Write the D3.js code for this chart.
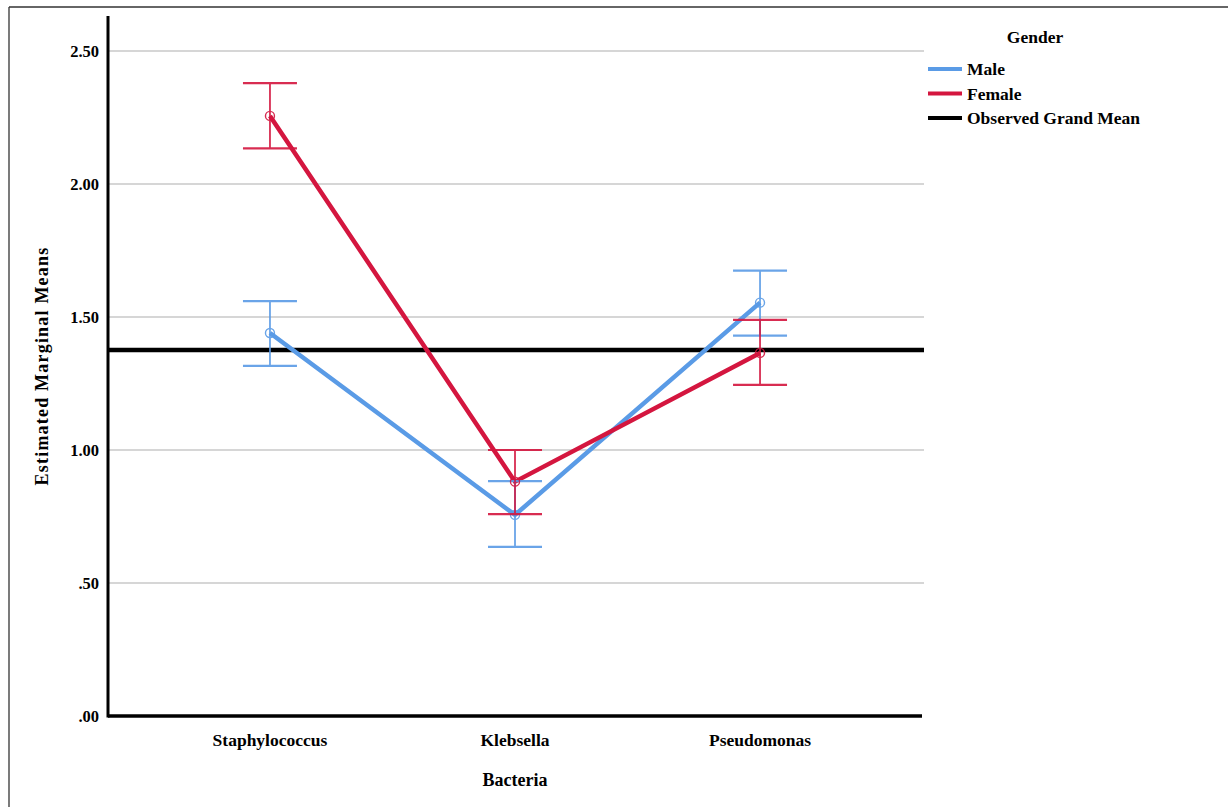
<!DOCTYPE html>
<html>
<head>
<meta charset="utf-8">
<script src="https://cdn.jsdelivr.net/npm/d3@7"></script>
<style>
  body { margin: 0; background: #fff; }
  text { font-family: "Liberation Serif", "DejaVu Serif", serif; font-weight: bold; fill: #000; }
</style>
</head>
<body>
<svg id="chart" width="1228" height="807"></svg>
<script>
// data
const categories = ['Staphylococcus', 'Klebsella', 'Pseudomonas'];
const maleMeans = [1.44, 0.756, 1.554];
const maleLower = [1.316, 0.636, 1.43];
const maleUpper = [1.56, 0.883, 1.674];
const femaleMeans = [2.256, 0.881, 1.365];
const femaleLower = [2.134, 0.759, 1.245];
const femaleUpper = [2.379, 1.0, 1.489];
const grandMean = 1.376;
const yTicks = [0, 0.5, 1.0, 1.5, 2.0, 2.5];

const series = [
  { name: 'Male', color: '#5a9be6', mean: maleMeans, lo: maleLower, hi: maleUpper },
  { name: 'Female', color: '#d4163f', mean: femaleMeans, lo: femaleLower, hi: femaleUpper }
];

const svg = d3.select('#chart');
const plotLeft = 108, plotRight = 922, plotTop = 16, plotBottom = 716;

// outer frame
svg.append('line').attr('x1', 9).attr('y1', 7).attr('x2', 9).attr('y2', 807)
   .attr('stroke', '#333').attr('stroke-width', 1.3);
svg.append('line').attr('x1', 9).attr('y1', 7).attr('x2', 1228).attr('y2', 7)
   .attr('stroke', '#333').attr('stroke-width', 1.3);

const xScale = d3.scalePoint()
                 .domain(categories)
                 .range([plotLeft, plotRight])
                 .padding(0.661);

const yScale = d3.scaleLinear()
                 .domain([0, 2.5])
                 .range([plotBottom, plotBottom - 5 * 133]);

// gridlines
svg.append('g')
   .selectAll('line')
   .data(yTicks.filter(d => d > 0))
   .join('line')
     .attr('x1', plotLeft)
     .attr('x2', plotRight + 2)
     .attr('y1', d => yScale(d))
     .attr('y2', d => yScale(d))
     .attr('stroke', '#c8c8c8')
     .attr('stroke-width', 1.5);

// y axis
const yAxis = svg.append('g')
                 .attr('transform', `translate(${plotLeft},0)`)
                 .call(d3.axisLeft(yScale)
                         .tickValues(yTicks)
                         .tickSize(0)
                         .tickPadding(9)
                         .tickFormat(d => d === 0 ? '.00' : d3.format('.2f')(d).replace(/^0/, '')));
yAxis.select('.domain').remove();
yAxis.selectAll('text').attr('font-size', 16.5).attr('dy', '0.35em')
     .style('font-family', '"Liberation Serif", serif').style('font-weight', 'bold');

svg.append('line').attr('x1', plotLeft).attr('x2', plotLeft).attr('y1', plotTop).attr('y2', plotBottom + 1.5)
   .attr('stroke', '#000').attr('stroke-width', 3);
svg.append('line').attr('x1', plotLeft).attr('x2', plotRight).attr('y1', plotBottom).attr('y2', plotBottom)
   .attr('stroke', '#000').attr('stroke-width', 3.5);

// category labels
svg.append('g')
   .selectAll('text')
   .data(categories)
   .join('text')
     .attr('x', d => xScale(d))
     .attr('y', 746)
     .attr('text-anchor', 'middle')
     .attr('font-size', 17.5)
     .text(d => d);

svg.append('text')
   .attr('x', xScale('Klebsella'))
   .attr('y', 786)
   .attr('text-anchor', 'middle')
   .attr('font-size', 18)
   .text('Bacteria');

svg.append('text')
   .attr('transform', `translate(48,${(plotTop + plotBottom) / 2}) rotate(-90)`)
   .attr('text-anchor', 'middle')
   .attr('font-size', 18)
   .attr('letter-spacing', 1.2)
   .text('Estimated Marginal Means');

// grand mean
svg.append('line')
   .attr('x1', plotLeft).attr('x2', plotRight + 2)
   .attr('y1', yScale(grandMean)).attr('y2', yScale(grandMean))
   .attr('stroke', '#000').attr('stroke-width', 4.5);

const line = d3.line()
               .x((d, i) => xScale(categories[i]))
               .y(d => yScale(d));

series.forEach(s => {
  svg.append('path')
     .datum(s.mean)
     .attr('d', line)
     .attr('fill', 'none')
     .attr('stroke', s.color)
     .attr('stroke-width', 4.5);
});

const capHalf = 27;
series.forEach(s => {
  const g = svg.append('g').attr('opacity', 0.9);
  categories.forEach((c, i) => {
    const x = xScale(c);
    g.append('line').attr('x1', x).attr('x2', x)
     .attr('y1', yScale(s.lo[i])).attr('y2', yScale(s.hi[i]))
     .attr('stroke', s.color).attr('stroke-width', 1.8);
    [s.lo[i], s.hi[i]].forEach(v => {
      g.append('line').attr('x1', x - capHalf).attr('x2', x + capHalf)
       .attr('y1', yScale(v)).attr('y2', yScale(v))
       .attr('stroke', s.color).attr('stroke-width', 2.2);
    });
    g.append('circle')
     .attr('cx', x).attr('cy', yScale(s.mean[i])).attr('r', 4.5)
     .attr('fill', 'none').attr('stroke', s.color).attr('stroke-width', 1.4);
  });
});

// legend
svg.append('text')
   .attr('x', 1035).attr('y', 43)
   .attr('text-anchor', 'middle')
   .attr('font-size', 17.5)
   .text('Gender');

const legendItems = [
  { name: 'Male', color: '#5a9be6' },
  { name: 'Female', color: '#d4163f' },
  { name: 'Observed Grand Mean', color: '#000' }
];
const legend = svg.append('g')
                  .selectAll('g')
                  .data(legendItems)
                  .join('g')
                    .attr('transform', (d, i) => `translate(928,${69 + i * 24.5})`);
legend.append('line')
      .attr('x1', 0).attr('x2', 34).attr('y1', 0).attr('y2', 0)
      .attr('stroke', d => d.color).attr('stroke-width', 4);
legend.append('text')
      .attr('x', 39).attr('y', 6)
      .attr('font-size', 17.5)
      .text(d => d.name);
</script>
</body>
</html>
